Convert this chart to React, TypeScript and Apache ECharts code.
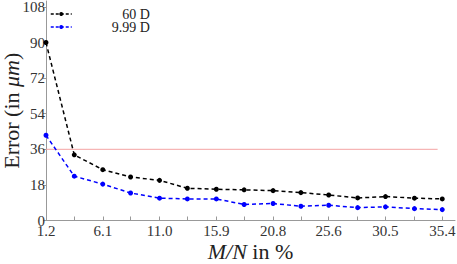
import React, { useEffect, useRef } from "react";
import * as echarts from "echarts";

const xValues = [1.2, 3.64, 6.1, 8.5, 11.0, 13.4, 15.9, 18.3, 20.8, 23.2, 25.6, 28.1, 30.5, 33.0, 35.4];
const xTickLabels = [1.2, 6.1, 11.0, 15.9, 20.8, 25.6, 30.5, 35.4];
const yTickLabels = [0, 18, 36, 54, 72, 90, 108];
const series60D = [90, 33.2, 25.7, 22.0, 20.3, 16.3, 15.8, 15.5, 15.1, 14.1, 12.9, 11.4, 12.1, 11.3, 10.9];
const series999D = [43.1, 22.4, 18.4, 13.9, 11.3, 10.9, 10.9, 8.1, 8.6, 7.2, 7.7, 6.5, 6.9, 6.0, 5.5];
const thresholdX = [1.2, 35.0];
const thresholdY = 36;

const FONT = "'Liberation Serif', 'DejaVu Serif', serif";

export default function App() {
  const ref = useRef<HTMLDivElement>(null);
  useEffect(() => {
    if (!ref.current) return;
    const chart = echarts.init(ref.current, undefined, { renderer: "svg" });
    chart.setOption({
      animation: false,
      backgroundColor: "#fff",
      grid: { left: 46, right: 2, top: 1, bottom: 43.5, containLabel: false, outerBoundsMode: "none" },
      legend: {
        data: ["60 D", "9.99 D"],
        orient: "vertical",
        left: 50,
        top: 7,
        padding: 0,
        itemWidth: 21,
        itemHeight: 5,
        itemGap: -1,
        lineStyle: { type: [3, 2], width: 1.5 },
        formatter: "{a|{name}}",
        textStyle: {
          fontFamily: FONT,
          fontSize: 14,
          color: "#222",
          rich: { a: { width: 73, align: "right", fontFamily: FONT, fontSize: 14, color: "#222" } },
        },
      },
      xAxis: {
        type: "value",
        min: 1.2,
        max: 36.5,
        name: "{i|M/N} in %",
        nameLocation: "middle",
        nameGap: 20,
        nameMoveOverlap: false,
        nameTextStyle: {
          fontFamily: FONT,
          fontSize: 22,
          color: "#222",
          rich: { i: { fontStyle: "italic", fontFamily: FONT, fontSize: 22, color: "#222" } },
        },
        splitLine: { show: false },
        axisLine: { show: true, lineStyle: { color: "#999", width: 1 } },
        axisTick: { show: true, inside: true, length: 4, customValues: xValues, lineStyle: { color: "#999" } },
        axisLabel: {
          customValues: xTickLabels,
          formatter: (v: number) => v.toFixed(1),
          fontFamily: FONT,
          fontSize: 15,
          color: "#333",
          margin: 3,
        },
      },
      yAxis: {
        type: "value",
        min: 0,
        max: 111,
        name: "Error (in {i|μm})",
        nameLocation: "middle",
        nameGap: 24,
        nameMoveOverlap: false,
        nameRotate: 90,
        nameTextStyle: {
          fontFamily: FONT,
          fontSize: 22,
          color: "#222",
          rich: { i: { fontStyle: "italic", fontFamily: FONT, fontSize: 22, color: "#222" } },
        },
        splitLine: { show: false },
        axisLine: { show: true, lineStyle: { color: "#999", width: 1 } },
        axisTick: { show: true, inside: false, length: 3, customValues: yTickLabels, lineStyle: { color: "#999" } },
        axisLabel: {
          customValues: yTickLabels,
          fontFamily: FONT,
          fontSize: 15,
          color: "#333",
          margin: 1,
        },
      },
      series: [
        {
          name: "threshold",
          type: "line",
          data: thresholdX.map((x) => [x, thresholdY]),
          showSymbol: false,
          symbol: "none",
          lineStyle: { color: "#f4a3a3", width: 1 },
          silent: true,
          z: 1,
        },
        {
          name: "60 D",
          type: "line",
          data: xValues.map((x, i) => [x, series60D[i]]),
          symbol: "circle",
          symbolSize: 5,
          itemStyle: { color: "#000" },
          lineStyle: { color: "#000", width: 1.5, type: [4, 3] },
          z: 3,
        },
        {
          name: "9.99 D",
          type: "line",
          data: xValues.map((x, i) => [x, series999D[i]]),
          symbol: "circle",
          symbolSize: 5,
          itemStyle: { color: "#0000ff" },
          lineStyle: { color: "#0000ff", width: 1.5, type: [4, 3] },
          z: 2,
        },
      ],
    });
    return () => chart.dispose();
  }, []);
  return (
    <div
      ref={ref}
      style={{ position: "fixed", left: 0, top: 0, width: 457, height: 264, background: "#fff" }}
    />
  );
}
